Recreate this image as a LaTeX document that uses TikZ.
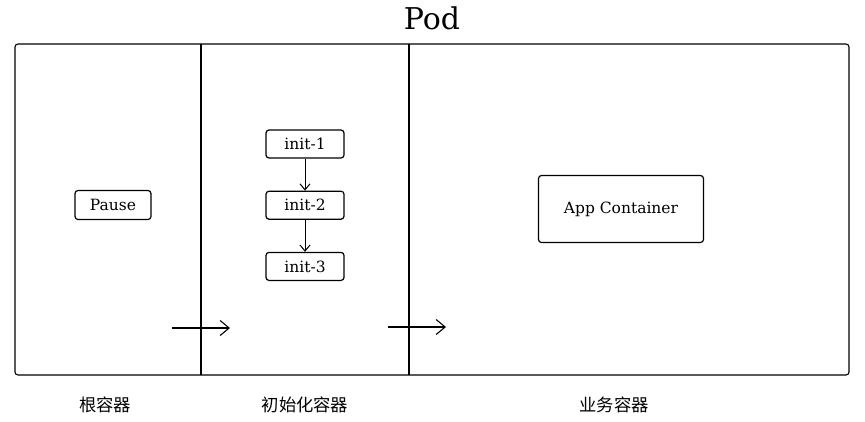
\documentclass[tikz,border=0pt]{standalone}
\usepackage{fontspec}
\setmainfont{DejaVu Serif}
\newfontfamily\cjk{Noto Sans CJK SC}
\usetikzlibrary{positioning,arrows.meta}

\begin{document}
\begin{tikzpicture}[x=1pt, y=-1pt,
box/.style={draw, rounded corners=3pt, line width=1.2pt, inner sep=0, font=\fontsize{15.5}{18}\selectfont},
initbox/.style={box, minimum width=78pt, minimum height=28pt},
flow/.style={-{Straight Barb[length=6pt, width=10pt, line width=1pt]}, line width=1pt},
bigflow/.style={-{Straight Barb[length=9pt, width=15pt, line width=1.1pt]}, line width=1.1pt},
zone/.style={font=\cjk\fontsize{17.3}{20}\selectfont},
]
\useasboundingbox (0,0) rectangle (865,421);

%%%%%%%%%%%%%%%%%%%%%%%% POD %%%%%%%%%%%%%%%%%%%%%%%%%%%
\node (pod) at (432,18) {\fontsize{30}{34}\selectfont Pod}; %%%%%%% TITLE
\draw[line width=1.1pt, rounded corners=3pt] (15,44) rectangle (849,375);
\draw[line width=1.1pt] (201,44) -- (201,375);
\draw[line width=1.1pt] (409,44) -- (409,375);

%%%%%%%%% CONTAINERS %%%%%%%%%%%%%
\node[box, minimum width=76pt, minimum height=29pt] (pause) at (113,205) {Pause};

\node[initbox] (init1) at (305,144) {init-1};
\node[initbox, below=32pt of init1] (init2) {init-2};
\node[initbox, below=32pt of init2] (init3) {init-3};
\draw[flow] (init1) -- (init2);
\draw[flow] (init2) -- (init3);

\node[box, minimum width=165pt, minimum height=67pt] (app) at (621,209) {App Container};

%%%%%%%%% STEPS %%%%%%%%%%%%%
\coordinate (s1) at (172,328);
\coordinate (e1) at (230,328);
\coordinate (s2) at (388,327);
\coordinate (e2) at (446,327);
\draw[bigflow] (s1) -- (e1);
\draw[bigflow] (s2) -- (e2);

\node[zone] (root) at (105,405) {根容器};
\node[zone] (init) at (305,405) {初始化容器};
\node[zone] (biz) at (614,405) {业务容器};
\end{tikzpicture}
\end{document}
